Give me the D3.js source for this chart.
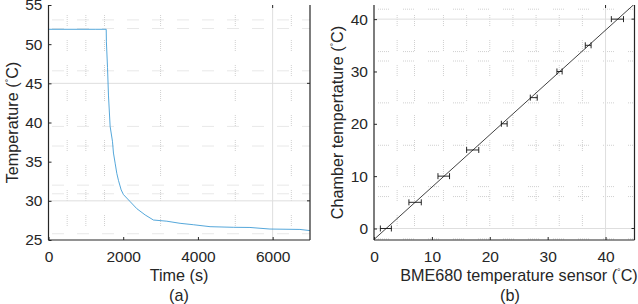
<!DOCTYPE html>
<html>
<head>
<meta charset="utf-8">
<script src="https://cdn.jsdelivr.net/npm/d3@7"></script>
<style>
  body { margin: 0; background: #fff; }
  svg text { font-family: "Liberation Sans", Arial, sans-serif; fill: #262626; }
</style>
</head>
<body>
<svg id="chart" width="638" height="304"></svg>
<script>
// ---- data (a): temperature decay over time
const timeS = [0, 1250, 1545, 1550, 1580, 1605, 1650, 1712, 1739, 1784, 1829, 1873, 1945, 2006,
    2185, 2364, 2587, 2809, 3167, 3523, 3880, 4325, 4948, 5392, 5927, 6730, 7000];
const tempC = [51.9, 51.9, 51.9, 50.3, 47, 43.5, 39.5, 37.6, 36.1, 34.8, 33.5, 32.6, 31.4, 30.8,
    29.9, 29.0, 28.2, 27.55, 27.4, 27.13, 26.95, 26.7, 26.62, 26.6, 26.4, 26.35, 26.2];
const ticksAX = [0, 2000, 4000, 6000];
const ticksAY = [25, 30, 35, 40, 45, 50, 55];
const gridAX = [6000];
const gridAY = [30, 45];
const dotAX = [500, 1000, 1500, 3000, 5000, 6500];
const dotAY = [53.1, 52.0, 46.6, 39.5, 37.0, 32.0, 30.9, 25.8];

// ---- data (b): calibration
const chamberT = [0, 5, 10, 15, 20, 25, 30, 35, 40];
const sensorT = [2.05, 7.1, 12.05, 17.05, 22.5, 27.6, 32.05, 37.0, 42.05];
const sensorErr = [0.95, 1.07, 1.0, 1.05, 0.5, 0.6, 0.45, 0.5, 1.05];
const fitSlope = 1.0, fitIntercept = -2.1;
const ticksBX = [0, 10, 20, 30, 40];
const ticksBY = [0, 10, 20, 30, 40];
const gridBX = [40];
const gridBY = [0, 40];
const dotBX = [4, 7, 12, 16, 20, 24, 28, 32, 36];
const dotBY = [41.9, 33.8, 32.0, 24.0, 15.9, 8.0, 6.1, -2.0];

const svg = d3.select("#chart");
const axisCol = "#262626";
const fs = 15.5;   // tick labels
const lfs = 16.2;  // axis labels
const dotPattern = "1,1,1,1,1,1,1,1,1,1,1,14";

function panel(opt) {
    const g = svg.append("g");
    const x = opt.x, y = opt.y;
    const [l, r] = x.range(), [b, t] = y.range();

    // dotted fragments
    g.selectAll(".dv").data(opt.dotX).enter().append("line")
        .attr("x1", d => x(d)).attr("x2", d => x(d)).attr("y1", t + 10).attr("y2", b)
        .attr("stroke", "#d0d0d0").attr("stroke-dasharray", dotPattern);
    g.selectAll(".dh").data(opt.dotY).enter().append("line")
        .attr("x1", l + 4).attr("x2", r).attr("y1", d => y(d)).attr("y2", d => y(d))
        .attr("stroke", "#d0d0d0").attr("stroke-dasharray", dotPattern);

    // solid grid
    g.selectAll(".gv").data(opt.gridX).enter().append("line")
        .attr("x1", d => x(d)).attr("x2", d => x(d)).attr("y1", t).attr("y2", b)
        .attr("stroke", "#dedede").attr("stroke-width", 1);
    g.selectAll(".gh").data(opt.gridY).enter().append("line")
        .attr("x1", l).attr("x2", r).attr("y1", d => y(d)).attr("y2", d => y(d))
        .attr("stroke", "#dedede").attr("stroke-width", 1);

    opt.draw(g);

    // axes
    const ax = g.append("g").attr("transform", `translate(0,${b})`)
        .call(d3.axisBottom(x).tickValues(opt.ticksX).tickFormat(d3.format("d"))
            .tickSizeInner(-3).tickSizeOuter(0).tickPadding(11));
    const ay = g.append("g").attr("transform", `translate(${l},0)`)
        .call(d3.axisLeft(y).tickValues(opt.ticksY).tickFormat(d3.format("d"))
            .tickSizeInner(-3).tickSizeOuter(0).tickPadding(6));
    [ax, ay].forEach(a => {
        a.select(".domain").attr("stroke", axisCol).attr("stroke-width", 1.2);
        a.selectAll(".tick line").attr("stroke", axisCol);
        a.selectAll("text").attr("font-size", fs).style("font-family", "Liberation Sans, Arial, sans-serif")
            .attr("fill", axisCol);
    });
    ax.select(".domain").attr("d", `M${l},0H${r}`);
    ay.select(".domain").attr("d", `M0,${b}V${t}`);
    // right border and top/right ticks
    g.append("line").attr("x1", r).attr("x2", r).attr("y1", t).attr("y2", b)
        .attr("stroke", axisCol).attr("stroke-width", 1.2);
    g.selectAll(".tt").data(opt.gridX).enter().append("line")
        .attr("x1", d => x(d)).attr("x2", d => x(d)).attr("y1", t).attr("y2", t + 3)
        .attr("stroke", axisCol);
    g.selectAll(".rt").data(opt.gridY).enter().append("line")
        .attr("x1", r - 3).attr("x2", r).attr("y1", d => y(d)).attr("y2", d => y(d))
        .attr("stroke", axisCol);

    // labels
    const xl = g.append("text").attr("x", opt.xLabelX).attr("y", 281)
        .attr("text-anchor", "middle").attr("font-size", lfs);
    xl.append("tspan").text(opt.xLabel[0]);
    if (opt.xLabel.length > 1) {
        xl.append("tspan").attr("font-size", 9).attr("dy", -6).text("°");
        xl.append("tspan").attr("dy", 6).text(opt.xLabel[1]);
    }
    g.append("text").attr("x", opt.subX).attr("y", 300.5).attr("text-anchor", "middle")
        .attr("font-size", lfs).text(opt.sub);
    const yl = g.append("text").attr("transform", `translate(${opt.yLabelX},${(t + b) / 2}) rotate(-90)`)
        .attr("text-anchor", "middle").attr("font-size", lfs);
    yl.append("tspan").text(opt.yLabel[0]);
    yl.append("tspan").attr("font-size", 9).attr("dy", -6).text("°");
    yl.append("tspan").attr("dy", 6).text(opt.yLabel[1]);
}

// (a)
const xa = d3.scaleLinear().domain([0, 7000]).range([48.5, 310]);
const ya = d3.scaleLinear().domain([25, 55]).range([240, 5]);
panel({
    x: xa, y: ya, ticksX: ticksAX, ticksY: ticksAY, gridX: gridAX, gridY: gridAY,
    dotX: dotAX, dotY: dotAY,
    xLabel: ["Time (s)"], xLabelX: 179, yLabel: ["Temperature (", "C)"], yLabelX: 18,
    sub: "(a)", subX: 179,
    draw: g => {
        const pts = timeS.map((t, i) => [t, tempC[i]]);
        g.append("path").datum(pts)
            .attr("fill", "none").attr("stroke", "#2a90d0").attr("stroke-width", 0.8)
            .attr("d", d3.line().x(d => xa(d[0])).y(d => ya(d[1])));
    }
});

// (b)
const xb = d3.scaleLinear().domain([0, 45]).range([374, 634.5]);
const yb = d3.scaleLinear().domain([-2.2, 42.7]).range([240, 5]);
panel({
    x: xb, y: yb, ticksX: ticksBX, ticksY: ticksBY, gridX: gridBX, gridY: gridBY,
    dotX: dotBX, dotY: dotBY,
    xLabel: ["BME680 temperature sensor (", "C)"], xLabelX: 519, yLabel: ["Chamber tempertature (", "C)"],
    yLabelX: 343, sub: "(b)", subX: 510,
    draw: g => {
        g.append("defs").append("clipPath").attr("id", "clipB").append("rect")
            .attr("x", 374).attr("y", 5).attr("width", 260.5).attr("height", 235);
        const xs = xb.domain();
        g.append("line").attr("clip-path", "url(#clipB)")
            .attr("x1", xb(xs[0])).attr("y1", yb(fitSlope * xs[0] + fitIntercept))
            .attr("x2", xb(xs[1])).attr("y2", yb(fitSlope * xs[1] + fitIntercept))
            .attr("stroke", "#111").attr("stroke-width", 0.8);
        const eb = g.selectAll(".eb").data(chamberT).enter().append("g");
        eb.append("line")
            .attr("x1", (d, i) => xb(sensorT[i] - sensorErr[i])).attr("x2", (d, i) => xb(sensorT[i] + sensorErr[i]))
            .attr("y1", d => yb(d)).attr("y2", d => yb(d)).attr("stroke", "#111").attr("stroke-width", 0.9);
        [-1, 1].forEach(s => {
            eb.append("line")
                .attr("x1", (d, i) => xb(sensorT[i] + s * sensorErr[i])).attr("x2", (d, i) => xb(sensorT[i] + s * sensorErr[i]))
                .attr("y1", d => yb(d) - 3).attr("y2", d => yb(d) + 3).attr("stroke", "#111").attr("stroke-width", 0.9);
        });
    }
});
</script>
</body>
</html>
